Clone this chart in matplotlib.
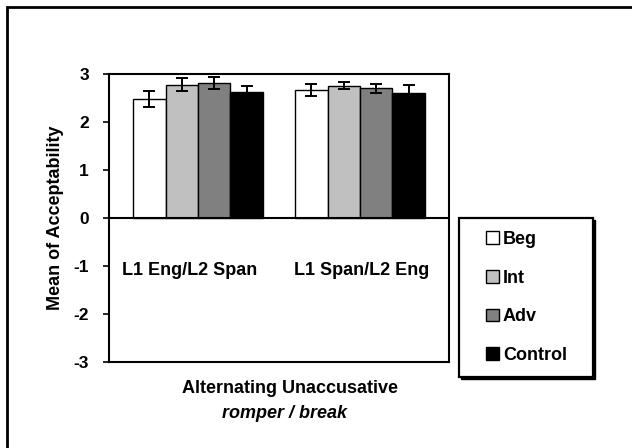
import matplotlib
matplotlib.use("Agg")
import matplotlib.pyplot as plt
from matplotlib.patches import Patch, Rectangle
import numpy as np

plt.rcParams['font.family'] = ['Liberation Sans', 'DejaVu Sans']
plt.rcParams['font.weight'] = 'bold'
plt.rcParams['axes.unicode_minus'] = False

# data
groups = ['L1 Eng/L2 Span', 'L1 Span/L2 Eng']
levels = ['Beg', 'Int', 'Adv', 'Control']
colors = ['#ffffff', '#c0c0c0', '#808080', '#000000']
means = {
    'Beg':     [2.48, 2.67],
    'Int':     [2.78, 2.76],
    'Adv':     [2.81, 2.70],
    'Control': [2.62, 2.61],
}
errs = {
    'Beg':     [0.17, 0.12],
    'Int':     [0.13, 0.08],
    'Adv':     [0.12, 0.10],
    'Control': [0.14, 0.16],
}

W, H = 632, 448
fs = 13

fig = plt.figure(figsize=(W/100, H/100), dpi=100)
ax = fig.add_axes([109/W, 1-362/H, 340/W, 288/H])

x = np.arange(len(groups))
w = 0.2
for i, lev in enumerate(levels):
    ax.bar(x + (i - 1.5)*w, means[lev], w, color=colors[i], edgecolor='black',
           linewidth=1.0, yerr=errs[lev], capsize=4.5,
           error_kw=dict(elinewidth=1.4, capthick=1.4, ecolor='black'))

ax.set_xlim(-0.55, 1.55)
ax.set_ylim(-3, 3)
ax.axhline(0, color='black', lw=1.5)
for s in ax.spines.values():
    s.set_linewidth(1.5)
ax.set_xticks([])
ax.set_yticks([-3, -2, -1, 0, 1, 2, 3])
ax.tick_params(axis='y', direction='out', length=4.5, width=1.2, labelsize=12.5, pad=10)
for lab in ax.get_yticklabels():
    lab.set_fontweight('bold')

fig.text(56/W, 1-218/H, 'Mean of Acceptability', rotation=90, ha='center', va='center',
         fontsize=fs, fontweight='bold')

# category labels sit inside the plot area, below the zero line
nudge = [-0.05, 0.01]
for xi, g, dx in zip(x, groups, nudge):
    ax.text(xi + dx, -1.1, g, ha='center', va='center', fontsize=fs, fontweight='bold')

fig.text(290/W, 1-388/H, 'Alternating Unaccusative', ha='center', va='center',
         fontsize=fs, fontweight='bold')
fig.text(285/W, 1-413/H, 'romper / break', ha='center', va='center',
         fontsize=fs, fontweight='bold', style='italic')

# legend: frame + shadow drawn as figure patches, entries from the legend
lx0, ly0, lx1, ly1 = 459, 218, 593, 377
fig.patches.append(Rectangle(((lx0+2)/W, 1-(ly1+2)/H), (lx1-lx0)/W, (ly1-ly0)/H,
                             transform=fig.transFigure, facecolor='black', edgecolor='black', lw=1))
fig.patches.append(Rectangle((lx0/W, 1-ly1/H), (lx1-lx0)/W, (ly1-ly0)/H,
                             transform=fig.transFigure, facecolor='white', edgecolor='black', lw=1.6))
handles = [Patch(facecolor=c, edgecolor='black', linewidth=1.0) for c in colors]
leg = fig.legend(handles, levels, loc='upper left', bbox_to_anchor=(486/W, 1-231/H),
                 frameon=False, labelspacing=1.2, handlelength=0.72, handleheight=0.72,
                 handletextpad=0.22, borderpad=0, borderaxespad=0,
                 prop={'weight': 'bold', 'size': fs})

# outer chart border (cropped on right and bottom)
fig.patches.append(Rectangle((7/W, -0.1), 1.2, 1-7/H+0.1, transform=fig.transFigure,
                             fill=False, edgecolor='black', linewidth=2.0))

fig.savefig('out.png', dpi=100)
